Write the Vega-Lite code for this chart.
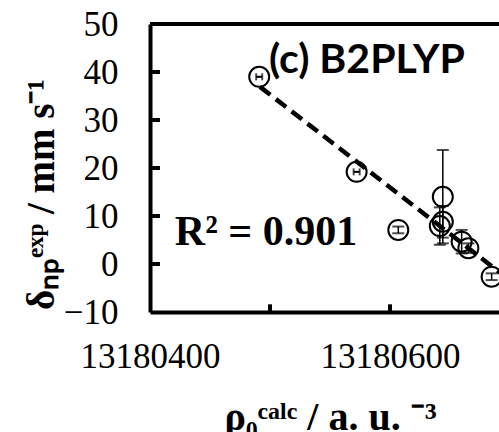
{
  "$schema": "https://vega.github.io/schema/vega-lite/v6.json",
  "width": 349,
  "height": 288,
  "autosize": {"type": "none"},
  "padding": {"left": 150, "top": 24, "right": 0, "bottom": 120},
  "background": "white",
  "config": {
    "view": {"stroke": null},
    "axis": {
      "grid": false,
      "ticks": false,
      "domainColor": "black",
      "domainWidth": 4,
      "labelFont": "Liberation Serif",
      "labelFontSize": 35,
      "labelColor": "black",
      "titleFont": "Liberation Serif",
      "titleFontWeight": "bold",
      "titleColor": "black"
    }
  },
  "datasets": {
    "pts": [
      {"x": 13180491.0, "y": 39.0, "xlo": 13180488.5, "xhi": 13180493.5},
      {"x": 13180572.2, "y": 19.2, "xlo": 13180569.7, "xhi": 13180574.7},
      {"x": 13180606.9, "y": 7.1, "ylo": 6.4, "yhi": 7.8},
      {"x": 13180644.0, "y": 14.0, "ylo": 4.3, "yhi": 23.75},
      {"x": 13180644.0, "y": 8.8, "ylo": 5.5, "yhi": 12.1},
      {"x": 13180641.5, "y": 7.9, "ylo": 4.0, "yhi": 11.8},
      {"x": 13180659.7, "y": 4.65, "ylo": 2.2, "yhi": 7.1},
      {"x": 13180665.3, "y": 3.3, "ylo": 2.3, "yhi": 4.3},
      {"x": 13180684.7, "y": -2.65, "ylo": -3.35, "yhi": -1.95}
    ],
    "trend": [
      {"x": 13180491.7, "y": 36.9},
      {"x": 13180700.0, "y": -3.4}
    ],
    "yticks": [
      {"x": 13180400, "x2": 13180408.3, "y": 0},
      {"x": 13180400, "x2": 13180408.3, "y": 10},
      {"x": 13180400, "x2": 13180408.3, "y": 20},
      {"x": 13180400, "x2": 13180408.3, "y": 30},
      {"x": 13180400, "x2": 13180408.3, "y": 40}
    ],
    "xticks": [
      {"x": 13180500, "y": -10, "y2": -8.4},
      {"x": 13180600, "y": -10, "y2": -8.4}
    ],
    "labels": [
      {"x": 13180580.8, "y": 39.8, "label": "(c) B2PLYP", "kind": "title"},
      {"x": 13180496.7, "y": 3.96, "label": "R² = 0.901", "kind": "r2"}
    ]
  },
  "layer": [
    {
      "data": {"name": "trend"},
      "mark": {"type": "line", "color": "black", "strokeWidth": 4.5, "strokeDash": [13, 7], "clip": true},
      "encoding": {
        "x": {
          "field": "x", "type": "quantitative",
          "scale": {"domain": [13180400, 13180690.83], "nice": false, "zero": false},
          "axis": {
            "values": [13180400, 13180500, 13180600],
            "format": "d",
            "labelExpr": "datum.value == 13180500 ? '' : datum.label",
            "labelFlush": false,
            "labelPadding": 27,
            "title": "ρ₀ᶜᵃˡᶜ / a. u. ⁻³",
            "titleFontSize": 40,
            "titleX": 180,
            "titleY": 117,
            "titleAnchor": null,
            "titleAlign": "center",
            "titleBaseline": "alphabetic"
          }
        },
        "y": {
          "field": "y", "type": "quantitative",
          "scale": {"domain": [-10, 50], "nice": false, "zero": false},
          "axis": {
            "values": [-10, 0, 10, 20, 30, 40, 50],
            "labelPadding": 32,
            "title": "δₙₚᵉˣᵖ / mm s⁻¹",
            "titleFontSize": 39,
            "titleAngle": -90,
            "titleX": -97,
            "titleY": 170,
            "titleAlign": "center",
            "titleBaseline": "alphabetic"
          }
        }
      }
    },
    {
      "data": {"name": "yticks"},
      "mark": {"type": "rule", "color": "black", "strokeWidth": 4},
      "encoding": {
        "x": {"field": "x", "type": "quantitative"},
        "x2": {"field": "x2"},
        "y": {"field": "y", "type": "quantitative"}
      }
    },
    {
      "data": {"name": "xticks"},
      "mark": {"type": "rule", "color": "black", "strokeWidth": 4},
      "encoding": {
        "x": {"field": "x", "type": "quantitative"},
        "y": {"field": "y", "type": "quantitative"},
        "y2": {"field": "y2"}
      }
    },
    {
      "data": {"name": "pts"},
      "transform": [{"filter": "isValid(datum.ylo)"}],
      "mark": {"type": "rule", "color": "black", "strokeWidth": 1.5},
      "encoding": {
        "x": {"field": "x", "type": "quantitative"},
        "y": {"field": "ylo", "type": "quantitative"},
        "y2": {"field": "yhi"}
      }
    },
    {
      "data": {"name": "pts"},
      "transform": [{"filter": "isValid(datum.ylo)"}],
      "mark": {"type": "tick", "color": "black", "orient": "horizontal", "size": 12, "thickness": 2},
      "encoding": {
        "x": {"field": "x", "type": "quantitative"},
        "y": {"field": "ylo", "type": "quantitative"}
      }
    },
    {
      "data": {"name": "pts"},
      "transform": [{"filter": "isValid(datum.yhi)"}],
      "mark": {"type": "tick", "color": "black", "orient": "horizontal", "size": 12, "thickness": 2},
      "encoding": {
        "x": {"field": "x", "type": "quantitative"},
        "y": {"field": "yhi", "type": "quantitative"}
      }
    },
    {
      "data": {"name": "pts"},
      "transform": [{"filter": "isValid(datum.xlo)"}],
      "mark": {"type": "rule", "color": "black", "strokeWidth": 2},
      "encoding": {
        "x": {"field": "xlo", "type": "quantitative"},
        "x2": {"field": "xhi"},
        "y": {"field": "y", "type": "quantitative"}
      }
    },
    {
      "data": {"name": "pts"},
      "transform": [{"filter": "isValid(datum.xlo)"}],
      "mark": {"type": "tick", "color": "black", "orient": "vertical", "size": 7, "thickness": 2},
      "encoding": {
        "x": {"field": "xlo", "type": "quantitative"},
        "y": {"field": "y", "type": "quantitative"}
      }
    },
    {
      "data": {"name": "pts"},
      "transform": [{"filter": "isValid(datum.xhi)"}],
      "mark": {"type": "tick", "color": "black", "orient": "vertical", "size": 7, "thickness": 2},
      "encoding": {
        "x": {"field": "xhi", "type": "quantitative"},
        "y": {"field": "y", "type": "quantitative"}
      }
    },
    {
      "data": {"name": "pts"},
      "mark": {"type": "point", "shape": "circle", "filled": false, "color": "black", "strokeWidth": 2, "size": 400, "opacity": 1},
      "encoding": {
        "x": {"field": "x", "type": "quantitative"},
        "y": {"field": "y", "type": "quantitative"}
      }
    },
    {
      "data": {"values": [{"top": 50}]},
      "mark": {"type": "rule", "color": "black", "strokeWidth": 4},
      "encoding": {"y": {"field": "top", "type": "quantitative"}}
    },
    {
      "data": {"name": "labels"},
      "transform": [{"filter": "datum.kind == 'title'"}],
      "mark": {"type": "text", "font": "Lato", "fontWeight": "bold", "fontSize": 41, "align": "center", "baseline": "alphabetic", "color": "black"},
      "encoding": {
        "x": {"field": "x", "type": "quantitative"},
        "y": {"field": "y", "type": "quantitative"},
        "text": {"field": "label"}
      }
    },
    {
      "data": {"name": "labels"},
      "transform": [{"filter": "datum.kind == 'r2'"}],
      "mark": {"type": "text", "font": "Liberation Serif", "fontWeight": "bold", "fontSize": 42, "align": "center", "baseline": "alphabetic", "color": "black"},
      "encoding": {
        "x": {"field": "x", "type": "quantitative"},
        "y": {"field": "y", "type": "quantitative"},
        "text": {"field": "label"}
      }
    }
  ]
}
